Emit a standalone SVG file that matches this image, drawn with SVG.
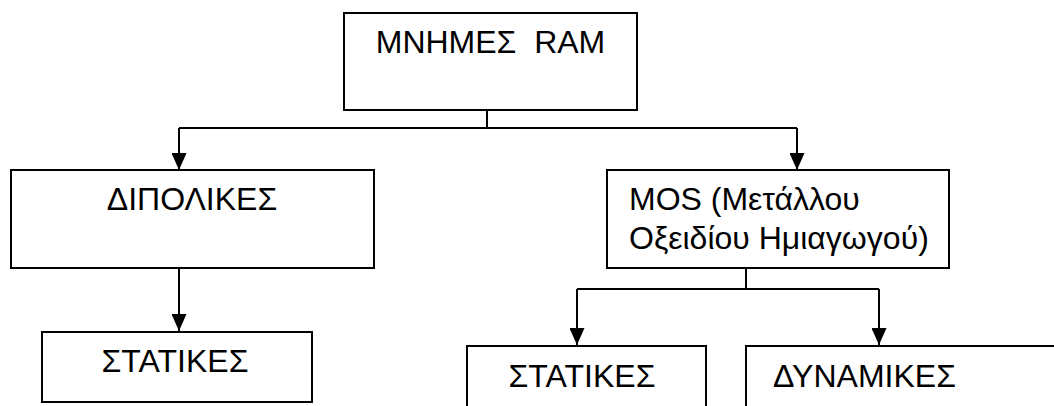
<svg xmlns="http://www.w3.org/2000/svg" width="1054" height="406" viewBox="0 0 1054 406">
  <style>
    .box { fill: #ffffff; stroke: #000000; stroke-width: 2; }
    .lbl { font-family: "Liberation Sans", Arial, sans-serif; font-size: 32px; fill: #000000; }
    .wire { fill: none; stroke: #000000; stroke-width: 2; }
  </style>
  <defs>
    <marker id="arrow" markerUnits="userSpaceOnUse" markerWidth="17" markerHeight="15" refX="17" refY="7.5" orient="auto">
      <path d="M0,0 L17,7.5 L0,15 Z" fill="#000000"/>
    </marker>
  </defs>
  <rect width="1054" height="406" fill="#ffffff"/>

  <g id="connectors">
    <!-- RAM to its two families -->
    <path class="wire" d="M487,110 V128"/>
    <path class="wire" d="M179,128 H797"/>
    <path class="wire" d="M179,128 V170" marker-end="url(#arrow)"/>
    <path class="wire" d="M797,128 V170" marker-end="url(#arrow)"/>
    <!-- bipolar to static -->
    <path class="wire" d="M179,268 V331" marker-end="url(#arrow)"/>
    <!-- MOS to static and dynamic -->
    <path class="wire" d="M746,268 V289"/>
    <path class="wire" d="M577,289 H879"/>
    <path class="wire" d="M577,289 V345" marker-end="url(#arrow)"/>
    <path class="wire" d="M879,289 V345" marker-end="url(#arrow)"/>
  </g>

  <g id="ram">
    <rect class="box" x="344" y="13" width="293" height="97"/>
    <text class="lbl" x="490.5" y="53" text-anchor="middle" xml:space="preserve">ΜΝΗΜΕΣ  RAM</text>
  </g>

  <g id="bipolar">
    <rect class="box" x="11" y="170" width="363" height="98"/>
    <text class="lbl" x="192" y="210" text-anchor="middle">ΔΙΠΟΛΙΚΕΣ</text>
  </g>

  <g id="mos">
    <rect class="box" x="607" y="170" width="342" height="98"/>
    <text class="lbl" x="629" y="210">MOS (Μετάλλου</text>
    <text class="lbl" x="629" y="249">Οξειδίου Ημιαγωγού)</text>
  </g>

  <g id="bipolar-static">
    <rect class="box" x="42" y="332" width="270" height="70"/>
    <text class="lbl" x="175" y="372" text-anchor="middle">ΣΤΑΤΙΚΕΣ</text>
  </g>

  <g id="mos-static">
    <rect class="box" x="467" y="346" width="239" height="80"/>
    <text class="lbl" x="582" y="387" text-anchor="middle">ΣΤΑΤΙΚΕΣ</text>
  </g>

  <g id="mos-dynamic">
    <rect class="box" x="746" y="346" width="330" height="80"/>
    <text class="lbl" x="864.5" y="387" text-anchor="middle">ΔΥΝΑΜΙΚΕΣ</text>
  </g>
</svg>
